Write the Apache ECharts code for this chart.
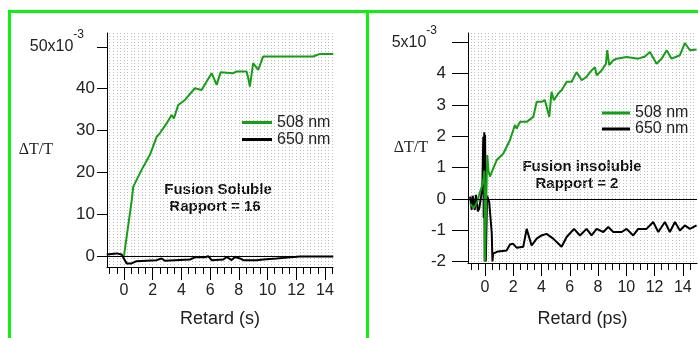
<!DOCTYPE html>
<html>
<head>
<meta charset="utf-8">
<script src="https://cdn.jsdelivr.net/npm/echarts@6/dist/echarts.min.js"></script>
<style>
html,body{margin:0;padding:0;background:#fff;}
#chart{width:698px;height:338px;}
</style>
</head>
<body>
<div id="chart"></div>
<script>
// ---------- data ----------
var seriesNames = ['508 nm', '650 nm'];
var xTitleLeft = 'Retard (s)';
var xTitleRight = 'Retard (ps)';
var yTitle = '\u0394T/T';
var noteLeft = ['Fusion Soluble', 'Rapport = 16'];
var noteRight = ['Fusion insoluble', 'Rapport = 2'];

var xLabelValues = [0, 2, 4, 6, 8, 10, 12, 14];
var yLabelLeft = [0, 10, 20, 30, 40, 50];
var yLabelRight = [-2, -1, 0, 1, 2, 3, 4, 5];

// left panel (x10^-3)
var leftGreenX = [0.0, 0.53, 0.65, 1.23, 1.81, 2.28, 2.51, 2.97, 3.32, 3.48, 3.78, 4.25, 4.94, 5.41, 5.76, 6.11, 6.46, 6.73, 7.61, 7.85, 8.54, 8.66, 8.77, 9.0, 9.35, 9.7, 13.18, 13.65, 14.58];
var leftGreenY = [0.0, 13.0, 16.6, 20.6, 24.2, 28.5, 29.4, 31.7, 33.7, 32.9, 36.1, 37.3, 40.1, 39.7, 41.7, 43.7, 40.9, 43.9, 43.7, 44.1, 44.1, 42.5, 40.5, 46.1, 44.5, 47.7, 47.7, 48.3, 48.3];
var leftBlackX = [-1.2, -0.51, -0.16, 0.19, 0.53, 0.88, 2.28, 2.62, 2.85, 4.6, 4.94, 5.64, 5.87, 6.11, 6.92, 7.15, 7.5, 7.73, 8.08, 8.31, 9.24, 9.7, 10.63, 11.56, 12.26, 14.58];
var leftBlackY = [0.4, 0.65, 0.4, -1.75, -1.75, -1.2, -0.96, -0.56, -1.1, -0.8, -0.3, -0.3, 0.0, -0.96, -0.8, -0.2, -0.96, -0.2, -0.56, -0.96, -0.96, -0.8, -0.56, -0.3, -0.1, -0.1];

// right panel (x10^-3)
var rightGreenX = [-1.05, -0.8, -0.55, -0.4, -0.25, -0.12, -0.04, 0.0, 0.06, 0.16, 0.25, 0.35, 0.83, 1.3, 1.77, 2.12, 2.24, 2.48, 2.95, 3.42, 3.66, 4.0, 4.24, 4.55, 4.71, 4.88, 5.19, 5.42, 5.78, 6.13, 6.48, 6.84, 7.19, 7.43, 7.78, 7.9, 8.25, 8.56, 8.65, 8.79, 9.08, 9.31, 10.02, 10.84, 11.32, 11.67, 12.14, 12.5, 12.85, 13.2, 13.79, 14.14, 14.5, 14.97];
var rightGreenY = [-0.15, -0.3, -0.1, 0.15, 0.35, 0.6, 0.9, -2.0, -2.0, 1.4, 0.9, 0.71, 1.24, 1.45, 1.88, 2.36, 2.25, 2.46, 2.46, 2.62, 3.1, 3.1, 3.15, 2.62, 3.42, 3.15, 3.37, 3.47, 3.74, 3.74, 4.05, 3.79, 3.9, 4.05, 4.21, 3.95, 4.1, 4.32, 4.75, 4.27, 4.43, 4.48, 4.53, 4.48, 4.55, 4.69, 4.32, 4.48, 4.75, 4.48, 4.59, 4.98, 4.75, 4.77];
var rightBlackX = [-1.05, -0.94, -0.87, -0.72, -0.64, -0.5, -0.4, -0.28, -0.18, -0.12, -0.09, -0.05, -0.02, 0.01, 0.06, 0.15, 0.3, 0.48, 0.53, 0.58, 0.92, 1.53, 1.77, 1.98, 2.24, 2.71, 2.95, 3.3, 3.66, 4.0, 4.36, 4.83, 5.42, 5.78, 6.3, 6.72, 7.19, 7.54, 7.9, 8.37, 8.72, 9.08, 9.67, 10.02, 10.49, 10.84, 11.43, 11.9, 12.26, 12.73, 13.08, 13.44, 13.79, 14.14, 14.5, 14.97];
var rightBlackY = [0.07, -0.35, 0.1, -0.35, 0.13, -0.4, -0.3, 0.06, 0.4, 1.98, -0.6, 2.13, -2.0, 2.05, -2.0, 0.1, -0.1, -1.1, -2.0, -1.75, -1.68, -1.65, -1.46, -1.43, -1.56, -1.53, -0.96, -1.49, -1.27, -1.17, -1.12, -1.27, -1.53, -1.22, -0.96, -1.17, -0.96, -1.17, -0.96, -1.06, -0.9, -1.06, -1.06, -0.96, -1.17, -0.96, -0.96, -0.74, -1.06, -0.74, -1.06, -0.74, -1.01, -0.85, -0.96, -0.85];

// ---------- helpers ----------
function zip(xs, ys) { return xs.map(function (x, i) { return [x, ys[i]]; }); }
function steps(a, b, s) { var r = []; for (var v = a; v <= b + 1e-9; v += s) r.push(Math.round(v * 100) / 100); return r; }

var GREEN = '#179e17';
var FONT = 'Liberation Sans';
var BORDER = '#11ee11';

function xAxesFor(gridIndex, min, max, title, nameGap, labelMargin) {
  return [
    { // main axis with short ticks
      type: 'value', gridIndex: gridIndex, min: min, max: max, position: 'bottom',
      axisLine: { show: true, onZero: false, lineStyle: { color: '#000', width: 1 } },
      axisTick: { show: true, customValues: steps(-1, 14.5, 0.5), length: 7, lineStyle: { color: '#000', width: 1 } },
      axisLabel: { show: false }, splitLine: { show: false }
    },
    { // long ticks + labels + name
      type: 'value', gridIndex: gridIndex, min: min, max: max, position: 'bottom',
      axisLine: { show: false, onZero: false },
      axisTick: { show: true, customValues: xLabelValues, length: 13, lineStyle: { color: '#000', width: 1 } },
      axisLabel: { show: true, customValues: xLabelValues, margin: labelMargin, color: '#222', fontSize: 16, fontFamily: FONT },
      splitLine: { show: false },
      name: title, nameLocation: 'middle', nameGap: nameGap, nameMoveOverlap: false,
      nameTextStyle: { color: '#222', fontSize: 18, fontFamily: FONT }
    },
    { // dotted vertical grid
      type: 'value', gridIndex: gridIndex, min: min, max: max, position: 'bottom',
      axisLine: { show: false, onZero: false },
      axisTick: { show: false, customValues: steps(-1, 14.75, 0.25) },
      axisLabel: { show: false },
      splitLine: { show: true, lineStyle: { color: '#bdbdbd', width: 1, type: [1, 2] } }
    }
  ];
}

function yAxisFor(gridIndex, min, max, labels, top, tickLen, margin, nameGap, supPad) {
  return {
    type: 'value', gridIndex: gridIndex, min: min, max: max,
    axisLine: { show: true, onZero: false, lineStyle: { color: '#000', width: 1 } },
    axisTick: { show: true, customValues: labels, length: tickLen, lineStyle: { color: '#000', width: 1 } },
    axisLabel: {
      show: true, customValues: labels, margin: margin,
      formatter: function (v) {
        if (v === top) return '{t|' + v + 'x10}{s|-3}';
        return '{m|' + v + '}';
      },
      rich: {
        m: { fontSize: 17, fontFamily: FONT, color: '#222' },
        t: { fontSize: 16, fontFamily: FONT, color: '#222', lineHeight: 36, verticalAlign: 'middle' },
        s: { fontSize: 12, fontFamily: FONT, color: '#222', verticalAlign: 'top', padding: [0, supPad, 0, 0] }
      }
    },
    splitLine: { show: false },
    name: yTitle, nameLocation: 'middle', nameRotate: 0, nameGap: nameGap, nameMoveOverlap: false,
    nameTextStyle: { color: '#222', fontSize: 16, fontFamily: 'Liberation Serif' }
  };
}

function lineSeries(name, color, xi, yi, data, withZero) {
  var s = {
    type: 'line', name: name, xAxisIndex: xi, yAxisIndex: yi, data: data,
    showSymbol: false, symbol: 'none', animation: false,
    lineStyle: { color: color, width: 2 }, itemStyle: { color: color }
  };
  if (withZero) {
    s.markLine = {
      silent: true, symbol: 'none', label: { show: false }, animation: false,
      lineStyle: { color: '#000', width: 1, type: 'solid' },
      data: [{ yAxis: 0 }]
    };
  }
  return s;
}

var chart = echarts.init(document.getElementById('chart'), null, { renderer: 'canvas' });
var option = {
  backgroundColor: '#fff',
  animation: false,
  grid: [
    { left: 107, top: 33, width: 226, height: 234, outerBoundsMode: 'none', containLabel: false },
    { left: 468, top: 33, width: 229, height: 230, outerBoundsMode: 'none', containLabel: false }
  ],
  xAxis: [].concat(
    xAxesFor(0, -1.18, 14.56, xTitleLeft, 43, 16),
    xAxesFor(1, -1.2, 15, xTitleRight, 47, 17)
  ),
  yAxis: [
    yAxisFor(0, -2.6, 53.3, yLabelLeft, 50, 10, 12, 54, 11),
    yAxisFor(1, -2.05, 5.3, yLabelRight, 5, 16, 22, 40, 9)
  ],
  legend: [
    { show: true, data: seriesNames, orient: 'vertical', left: 237, top: 109, itemWidth: 30, itemHeight: 3, itemGap: 0, icon: 'rect',
      selectedMode: false, textStyle: { fontSize: 16, fontFamily: FONT, color: '#222', lineHeight: 17 } },
    { show: true, data: seriesNames, orient: 'vertical', left: 597, top: 100, itemWidth: 28, itemHeight: 3, itemGap: 0, icon: 'rect',
      selectedMode: false, textStyle: { fontSize: 16, fontFamily: FONT, color: '#222', lineHeight: 16 } }
  ],
  series: [
    lineSeries(seriesNames[1], '#000', 0, 0, zip(leftBlackX, leftBlackY), true),
    lineSeries(seriesNames[0], GREEN, 0, 0, zip(leftGreenX, leftGreenY), false),
    lineSeries(seriesNames[1], '#000', 3, 1, zip(rightBlackX, rightBlackY), true),
    lineSeries(seriesNames[0], GREEN, 3, 1, zip(rightGreenX, rightGreenY), false)
  ],
  graphic: [
    { type: 'rect', shape: { x: 8, y: 10, width: 690, height: 3 }, style: { fill: BORDER }, silent: true },
    { type: 'rect', shape: { x: 8, y: 10, width: 3, height: 328 }, style: { fill: BORDER }, silent: true },
    { type: 'rect', shape: { x: 366, y: 10, width: 3, height: 328 }, style: { fill: BORDER }, silent: true },
    { type: 'text', x: 218, y: 190, style: { text: noteLeft[0], font: 'bold 15px "Liberation Sans"', fill: '#111', textAlign: 'center', textVerticalAlign: 'middle' }, silent: true },
    { type: 'text', x: 215, y: 207, style: { text: noteLeft[1], font: 'bold 15px "Liberation Sans"', fill: '#111', textAlign: 'center', textVerticalAlign: 'middle' }, silent: true },
    { type: 'text', x: 582, y: 167, style: { text: noteRight[0], font: 'bold 15px "Liberation Sans"', fill: '#111', textAlign: 'center', textVerticalAlign: 'middle' }, silent: true },
    { type: 'text', x: 577, y: 184, style: { text: noteRight[1], font: 'bold 15px "Liberation Sans"', fill: '#111', textAlign: 'center', textVerticalAlign: 'middle' }, silent: true }
  ]
};
chart.setOption(option);
</script>
</body>
</html>
